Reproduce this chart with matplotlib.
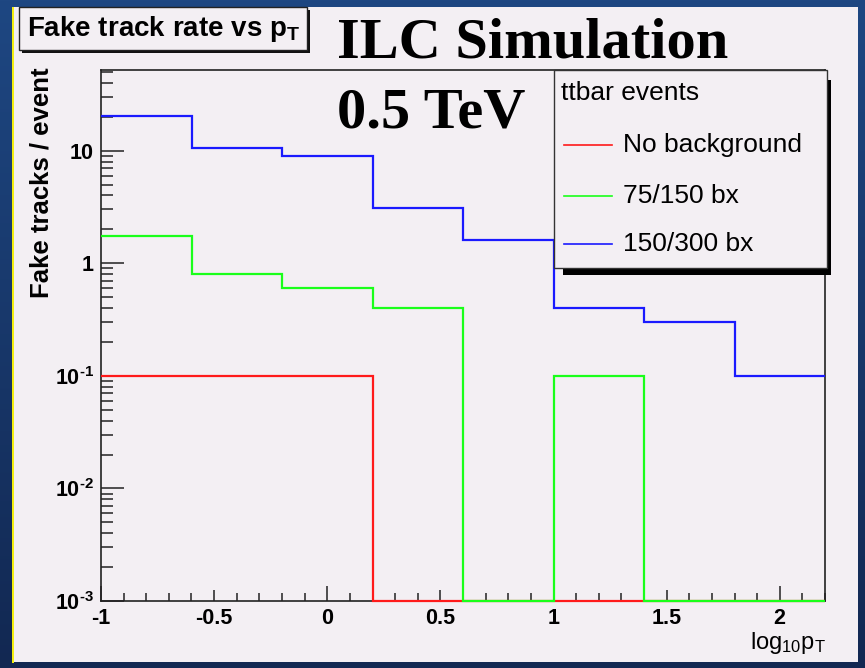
import numpy as np
import matplotlib
matplotlib.use("Agg")
import matplotlib.pyplot as plt
from matplotlib.patches import Rectangle
from matplotlib.lines import Line2D
from matplotlib.ticker import MultipleLocator, LogLocator, NullFormatter, FixedLocator

plt.rcParams['font.family'] = ['Liberation Sans', 'DejaVu Sans']
plt.rcParams['mathtext.fontset'] = 'custom'
plt.rcParams['mathtext.rm'] = 'Liberation Sans'
plt.rcParams['mathtext.it'] = 'Liberation Sans:italic'
plt.rcParams['mathtext.bf'] = 'Liberation Sans:bold'
plt.rcParams['axes.unicode_minus'] = False

# ---- data -------------------------------------------------------------
bin_edges = [-1.0, -0.6, -0.2, 0.2, 0.6, 1.0, 1.4, 1.8, 2.2]
no_background = [0.1, 0.1, 0.1, 0.0, 0.0, 0.0, 0.0, 0.0]
bx_75_150 = [1.75, 0.8, 0.6, 0.4, 0.0, 0.1, 0.0, 0.0]
bx_150_300 = [20.5, 10.5, 9.0, 3.1, 1.6, 0.4, 0.3, 0.1]
series = [no_background, bx_75_150, bx_150_300]
series_labels = ["No background", "75/150 bx", "150/300 bx"]
series_colors = ["#ff1a1a", "#1aff1a", "#1a1aff"]
legend_title = "ttbar events"

HY = "\u2010"  # short hyphen for exponents
x_ticks = [-1, -0.5, 0, 0.5, 1, 1.5, 2]
x_tick_labels = ["-1", "-0.5", "0", "0.5", "1", "1.5", "2"]
y_ticks = [1e-3, 1e-2, 1e-1, 1, 10]
y_tick_labels = [r"$\mathbf{10^{" + HY + "3}}$", r"$\mathbf{10^{" + HY + "2}}$",
                 r"$\mathbf{10^{" + HY + "1}}$", "1", "10"]
x_range = (-1.0, 2.2)
y_range = (1e-3, 52.0)

title_text = r"Fake track rate vs p$\mathbf{_T}$"
banner_line1 = "ILC Simulation"
banner_line2 = "0.5 TeV"
x_title = r"log$_{\mathrm{10}}$p$_{\mathrm{T}}$"
y_title = "Fake tracks / event"

# ---- figure & slide background ------------------------------------------
W, H = 865, 668
fig = plt.figure(figsize=(W / 100, H / 100), dpi=100)


def fx(px):
    return px / W


def fy(py):
    return 1 - py / H


bg = fig.add_axes([0, 0, 1, 1], zorder=-10)
grad = np.linspace(0, 1, 256)[:, None]
top_c = np.array([0x1e, 0x47, 0x82]) / 255
bot_c = np.array([0x12, 0x28, 0x52]) / 255
img = top_c[None, None, :] * (1 - grad[..., None]) + bot_c[None, None, :] * grad[..., None]
bg.imshow(img, aspect='auto', extent=[0, 1, 0, 1])
bg.set_axis_off()

panel_color = "#f3eff3"
fig.patches.append(Rectangle((fx(14), fy(662)), fx(858) - fx(14), fy(7) - fy(662),
                             transform=fig.transFigure, facecolor=panel_color,
                             edgecolor='none', zorder=-5))
fig.patches.append(Rectangle((fx(12), fy(663)), fx(14) - fx(12), fy(7) - fy(663),
                             transform=fig.transFigure, facecolor="#f2ee10",
                             edgecolor='none', zorder=-5))

# ---- main axes ------------------------------------------------------------
ax = fig.add_axes([fx(101), fy(601), fx(825) - fx(101), fy(70) - fy(601)])
ax.set_facecolor(panel_color)
ax.set_yscale('log')
ax.set_xlim(*x_range)
ax.set_ylim(*y_range)

floor = y_range[0]
for vals, col in zip(series, series_colors):
    v = np.asarray(vals, dtype=float)
    shown = np.where(v > 0, v, floor)
    ax.stairs(shown, bin_edges, baseline=None, color=col, linewidth=1.6,
              clip_on=False, zorder=3)

for sp in ax.spines.values():
    sp.set_linewidth(1.2)
    sp.set_color('#222222')

ax.set_xticks(x_ticks)
ax.set_xticklabels(x_tick_labels, fontsize=15.5, fontweight='bold')
ax.xaxis.set_minor_locator(MultipleLocator(0.1))
ax.tick_params(axis='x', which='both', direction='in', top=False, pad=5,
               color='#222222', width=1.1)
ax.tick_params(axis='x', which='minor', length=6)
for t, loc in zip(ax.xaxis.get_major_ticks(), x_ticks):
    t.tick1line.set_markersize(11 if float(loc).is_integer() else 8)

ax.yaxis.set_major_locator(FixedLocator(y_ticks))
ax.set_yticklabels(y_tick_labels, fontsize=15.5, fontweight='bold')
ax.yaxis.set_minor_locator(LogLocator(base=10, subs=range(2, 10), numticks=20))
ax.yaxis.set_minor_formatter(NullFormatter())
ax.tick_params(axis='y', which='both', direction='in', right=False, pad=5,
               color='#222222', width=1.1)
ax.tick_params(axis='y', which='major', length=16.5)
ax.tick_params(axis='y', which='minor', length=8.5)

# axis titles
fig.text(fx(826), fy(649), x_title, fontsize=17, ha='right', va='baseline')
fig.text(fx(42), fy(67), y_title, fontsize=18.5, fontweight='bold',
         rotation=90, ha='center', va='top')

# ---- title box ----------------------------------------------------------------
fig.patches.append(Rectangle((fx(22), fy(53)), fx(310) - fx(22), fy(10) - fy(53),
                             transform=fig.transFigure, facecolor='#111111',
                             edgecolor='none', zorder=4))
fig.patches.append(Rectangle((fx(19), fy(50)), fx(307) - fx(19), fy(7) - fy(50),
                             transform=fig.transFigure, facecolor=panel_color,
                             edgecolor='#222222', linewidth=1.0, zorder=5))
fig.text(fx(27), fy(36), title_text, fontsize=20, fontweight='bold',
         ha='left', va='baseline', zorder=6)

# ---- banner ---------------------------------------------------------------------
fig.text(fx(337), fy(57), banner_line1, fontsize=42, fontweight='bold',
         family='Liberation Serif', ha='left', va='baseline', zorder=6)
fig.text(fx(337), fy(128), banner_line2, fontsize=42, fontweight='bold',
         family='Liberation Serif', ha='left', va='baseline', zorder=6)

# ---- legend -------------------------------------------------------------------
fig.patches.append(Rectangle((fx(563), fy(275)), fx(831) - fx(563), fy(80) - fy(275),
                             transform=fig.transFigure, facecolor='#000000',
                             edgecolor='none', zorder=7))
fig.patches.append(Rectangle((fx(554), fy(268)), fx(827) - fx(554), fy(70) - fy(268),
                             transform=fig.transFigure, facecolor=panel_color,
                             edgecolor='#333333', linewidth=1.0, zorder=8))
fig.text(fx(561), fy(93), legend_title, fontsize=19, ha='left', va='center', zorder=9)
entry_rows = [145, 196, 244]
for row, lab, col in zip(entry_rows, series_labels, series_colors):
    fig.lines.append(Line2D([fx(564), fx(612)], [fy(row), fy(row)],
                            transform=fig.transFigure, color=col, linewidth=1.2,
                            zorder=9))
    fig.text(fx(623), fy(row), lab, fontsize=19, ha='left', va='center', zorder=9)

fig.savefig("out.png", dpi=100)
